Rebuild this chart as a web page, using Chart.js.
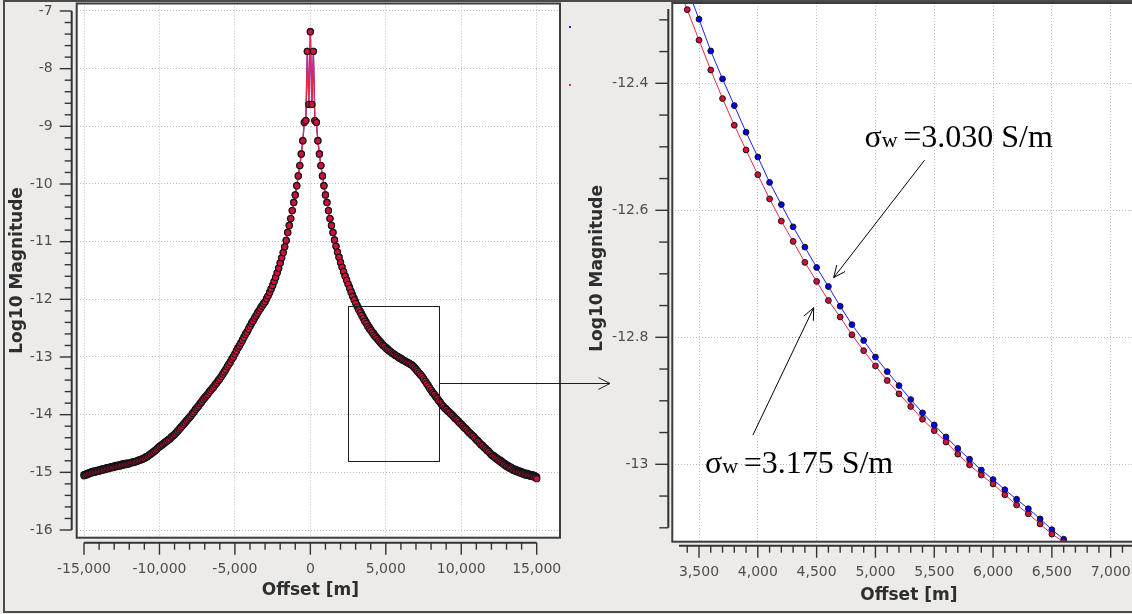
<!DOCTYPE html>
<html>
<head>
<meta charset="utf-8">
<title>Log10 Magnitude vs Offset</title>
<script src="https://cdn.jsdelivr.net/npm/chart.js@4.4.1/dist/chart.umd.min.js"></script>
<style>
  html, body { margin: 0; padding: 0; width: 1132px; height: 614px; overflow: hidden; background: #ecebe9; }
  .pane { position: absolute; top: -10px; }
  .pane canvas { display: block; }
  #paneLeft { left: 0; width: 620px; height: 624px; z-index: 2; }
  #paneRight { left: 575px; width: 600px; height: 624px; z-index: 1; }
  #frame { position: absolute; left: 3px; top: 0; width: 1160px; height: 613px; box-sizing: border-box;
           border-style: solid; border-color: #4b4b4b; border-width: 2px 0 2px 2px; z-index: 3; pointer-events: none; }
</style>
</head>
<body>
<div class="pane" id="paneLeft"><canvas id="leftCanvas" width="620" height="624"></canvas></div>
<div class="pane" id="paneRight"><canvas id="rightCanvas" width="600" height="624"></canvas></div>
<div id="frame"></div>
<script>
// ---------------- data ----------------
// water conductivities of the two models
const conductivities = ['3.175', '3.030'];

// full profile: receivers every 100 m from -15 km to +15 km
const profileStart = -15000, profileEnd = 15000, profileStep = 100;

// log10 magnitude, sigma_w = 3.175 S/m (full profile)
const profileRed = [
  -15.06,-15.05,-15.04,-15.03,-15.02,-15.01,-15.00,-15.00,-14.99,-14.98,
  -14.98,-14.97,-14.96,-14.96,-14.95,-14.94,-14.94,-14.93,-14.92,-14.92,
  -14.91,-14.90,-14.90,-14.89,-14.89,-14.88,-14.87,-14.87,-14.86,-14.86,
  -14.85,-14.84,-14.83,-14.83,-14.82,-14.81,-14.80,-14.79,-14.78,-14.77,
  -14.76,-14.74,-14.73,-14.71,-14.69,-14.67,-14.65,-14.63,-14.61,-14.58,
  -14.56,-14.54,-14.52,-14.50,-14.48,-14.46,-14.44,-14.42,-14.39,-14.37,
  -14.35,-14.32,-14.29,-14.26,-14.23,-14.20,-14.17,-14.14,-14.11,-14.08,
  -14.05,-14.02,-13.98,-13.95,-13.91,-13.88,-13.85,-13.81,-13.78,-13.74,
  -13.71,-13.68,-13.65,-13.61,-13.58,-13.55,-13.52,-13.48,-13.45,-13.41,
  -13.38,-13.34,-13.30,-13.26,-13.22,-13.17,-13.13,-13.09,-13.04,-13.00,
  -12.95,-12.90,-12.85,-12.81,-12.76,-12.71,-12.66,-12.61,-12.57,-12.52,
  -12.47,-12.42,-12.38,-12.33,-12.29,-12.24,-12.20,-12.16,-12.12,-12.08,
  -12.04,-11.99,-11.94,-11.88,-11.82,-11.76,-11.69,-11.62,-11.54,-11.46,
  -11.37,-11.28,-11.19,-11.09,-10.98,-10.84,-10.72,-10.60,-10.46,-10.32,
  -10.19,-10.03,-9.86,-9.68,-9.48,-9.25,-8.93,-8.90,-7.70,-8.62,
  -7.36,
  -8.62,-7.70,-8.90,-8.93,-9.25,-9.48,-9.68,-9.86,-10.03,-10.19,
  -10.32,-10.46,-10.60,-10.72,-10.84,-10.97,-11.08,-11.18,-11.27,-11.36,
  -11.44,-11.52,-11.60,-11.67,-11.74,-11.81,-11.88,-11.95,-12.01,-12.07,
  -12.13,-12.18,-12.23,-12.28,-12.33,-12.38,-12.42,-12.47,-12.51,-12.54,
  -12.58,-12.62,-12.65,-12.68,-12.71,-12.74,-12.77,-12.80,-12.82,-12.85,
  -12.87,-12.89,-12.91,-12.93,-12.95,-12.97,-12.98,-13.00,-13.02,-13.03,
  -13.05,-13.06,-13.08,-13.09,-13.11,-13.12,-13.14,-13.16,-13.19,-13.22,
  -13.25,-13.28,-13.31,-13.34,-13.38,-13.42,-13.46,-13.50,-13.54,-13.58,
  -13.62,-13.65,-13.69,-13.72,-13.76,-13.79,-13.83,-13.86,-13.89,-13.91,
  -13.94,-13.96,-13.99,-14.01,-14.04,-14.07,-14.09,-14.12,-14.15,-14.17,
  -14.20,-14.23,-14.25,-14.28,-14.31,-14.33,-14.36,-14.38,-14.41,-14.44,
  -14.46,-14.49,-14.52,-14.54,-14.57,-14.59,-14.62,-14.64,-14.67,-14.70,
  -14.72,-14.74,-14.76,-14.78,-14.80,-14.82,-14.84,-14.86,-14.88,-14.90,
  -14.91,-14.93,-14.94,-14.96,-14.97,-14.98,-14.99,-15.00,-15.01,-15.02,
  -15.03,-15.04,-15.05,-15.05,-15.06,-15.07,-15.07,-15.08,-15.09,-15.11
];

// log10 magnitude, sigma_w = 3.030 S/m (full profile)
const profileBlue = [
  -15.04,-15.03,-15.02,-15.01,-15.00,-14.99,-14.98,-14.98,-14.97,-14.96,
  -14.96,-14.95,-14.94,-14.94,-14.93,-14.92,-14.92,-14.91,-14.90,-14.90,
  -14.89,-14.88,-14.88,-14.87,-14.87,-14.86,-14.85,-14.85,-14.84,-14.84,
  -14.84,-14.83,-14.82,-14.82,-14.81,-14.80,-14.79,-14.78,-14.77,-14.76,
  -14.75,-14.73,-14.72,-14.70,-14.68,-14.66,-14.64,-14.62,-14.60,-14.57,
  -14.55,-14.53,-14.51,-14.49,-14.47,-14.45,-14.43,-14.41,-14.38,-14.36,
  -14.34,-14.31,-14.28,-14.25,-14.22,-14.19,-14.16,-14.13,-14.10,-14.07,
  -14.04,-14.01,-13.97,-13.94,-13.90,-13.87,-13.84,-13.80,-13.77,-13.73,
  -13.70,-13.67,-13.64,-13.60,-13.57,-13.54,-13.51,-13.47,-13.44,-13.40,
  -13.37,-13.33,-13.29,-13.25,-13.21,-13.16,-13.12,-13.08,-13.03,-12.99,
  -12.94,-12.89,-12.84,-12.80,-12.75,-12.70,-12.65,-12.60,-12.56,-12.51,
  -12.46,-12.41,-12.37,-12.32,-12.28,-12.23,-12.19,-12.15,-12.11,-12.07,
  -12.04,-11.99,-11.94,-11.88,-11.82,-11.76,-11.69,-11.62,-11.54,-11.46,
  -11.37,-11.28,-11.19,-11.09,-10.98,-10.84,-10.72,-10.60,-10.46,-10.32,
  -10.19,-10.03,-9.86,-9.68,-9.48,-9.25,-8.93,-8.90,-7.70,-8.62,
  -7.36,
  -8.62,-7.70,-8.90,-8.93,-9.25,-9.48,-9.68,-9.86,-10.03,-10.19,
  -10.32,-10.46,-10.60,-10.72,-10.84,-10.97,-11.08,-11.18,-11.27,-11.36,
  -11.44,-11.52,-11.59,-11.66,-11.73,-11.79,-11.86,-11.92,-11.98,-12.04,
  -12.10,-12.15,-12.20,-12.25,-12.30,-12.35,-12.39,-12.44,-12.48,-12.52,
  -12.56,-12.59,-12.63,-12.66,-12.69,-12.72,-12.75,-12.78,-12.81,-12.83,
  -12.85,-12.88,-12.90,-12.92,-12.94,-12.96,-12.98,-12.99,-13.01,-13.02,
  -13.04,-13.06,-13.07,-13.09,-13.10,-13.12,-13.13,-13.15,-13.18,-13.21,
  -13.24,-13.27,-13.30,-13.33,-13.37,-13.41,-13.45,-13.49,-13.53,-13.57,
  -13.61,-13.64,-13.68,-13.71,-13.75,-13.78,-13.82,-13.85,-13.88,-13.90,
  -13.93,-13.95,-13.98,-14.00,-14.03,-14.06,-14.08,-14.11,-14.14,-14.16,
  -14.19,-14.22,-14.24,-14.27,-14.30,-14.32,-14.35,-14.37,-14.40,-14.43,
  -14.45,-14.48,-14.51,-14.53,-14.56,-14.58,-14.61,-14.63,-14.66,-14.69,
  -14.70,-14.72,-14.74,-14.76,-14.78,-14.79,-14.81,-14.83,-14.85,-14.87,
  -14.88,-14.90,-14.91,-14.93,-14.94,-14.95,-14.96,-14.97,-14.98,-14.99,
  -15.00,-15.01,-15.02,-15.02,-15.03,-15.04,-15.04,-15.05,-15.06,-15.08
];

// detail window: offsets [m]
const detailOffsets = [3300,3400,3500,3600,3700,3800,3900,4000,4100,4200,4300,4400,4500,4600,4700,
  4800,4900,5000,5100,5200,5300,5400,5500,5600,5700,5800,5900,6000,6100,6200,6300,6400,6500,6600,6700];
// detail window: sigma_w = 3.175 S/m
const detailRed = [-12.235,-12.284,-12.332,-12.379,-12.424,-12.466,-12.505,-12.544,-12.582,-12.617,
  -12.649,-12.682,-12.712,-12.742,-12.768,-12.796,-12.821,-12.845,-12.868,-12.889,-12.909,-12.929,
  -12.947,-12.965,-12.984,-13.001,-13.017,-13.031,-13.048,-13.064,-13.078,-13.094,-13.110,-13.122,-13.137];
// detail window: sigma_w = 3.030 S/m
const detailBlue = [-12.200,-12.250,-12.299,-12.349,-12.393,-12.435,-12.477,-12.516,-12.556,-12.591,
  -12.626,-12.658,-12.690,-12.720,-12.751,-12.780,-12.805,-12.831,-12.854,-12.876,-12.898,-12.919,
  -12.938,-12.957,-12.975,-12.992,-13.009,-13.024,-13.040,-13.055,-13.070,-13.086,-13.103,-13.118,-13.133];

// labelled ticks
const profileXTicks = [-15000, -10000, -5000, 0, 5000, 10000, 15000];
const profileYTicks = [-16, -15, -14, -13, -12, -11, -10, -9, -8, -7];
const detailXTicks = [3500, 4000, 4500, 5000, 5500, 6000, 6500, 7000];
const detailYTicks = [-13, -12.8, -12.6, -12.4];

// detail window outlined on the full profile: [x0, x1, yTop, yBottom]
const zoomWindow = [2515, 8540, -12.115, -14.795];

// ---------------- helpers ----------------
const profileOffsets = [];
for (let x = profileStart; x <= profileEnd; x += profileStep) profileOffsets.push(x);

const toPoints = (xs, ys) => xs.map((x, i) => ({ x, y: ys[i] }));
const fixedTicks = values => scale => { scale.ticks = values.map(value => ({ value })); };
const fmtThousands = v => Number(v).toLocaleString('en-US');
const fmtDecimal = v => String(Math.round(v * 10) / 10);

function seg(ctx, x1, y1, x2, y2) {
  ctx.beginPath(); ctx.moveTo(x1, y1); ctx.lineTo(x2, y2); ctx.stroke();
}
function arrow(ctx, x1, y1, x2, y2, head, spread) {
  seg(ctx, x1, y1, x2, y2);
  const ang = Math.atan2(y2 - y1, x2 - x1) + Math.PI;
  for (const s of [-1, 1]) {
    seg(ctx, x2, y2, x2 + head * Math.cos(ang + s * spread), y2 + head * Math.sin(ang + s * spread));
  }
}
function stepsIn(range, step) {
  const out = [];
  const n0 = Math.ceil(range[0] / step - 1e-9), n1 = Math.floor(range[1] / step + 1e-9);
  for (let n = n0; n <= n1; n++) out.push(n * step);
  return out;
}
const onStep = (v, step) => Math.abs(v / step - Math.round(v / step)) < 1e-6;

// white plotting area, frame, detached axes with minor ticks, axis titles
const plotDecor = {
  id: 'plotDecor',
  beforeDraw(chart) {
    const { ctx, chartArea: a } = chart;
    ctx.save();
    ctx.fillStyle = '#ffffff';
    ctx.fillRect(a.left, a.top, a.right - a.left, a.bottom - a.top);
    ctx.restore();
  },
  afterDraw(chart, args, o) {
    const { ctx, chartArea: a, scales: { x, y } } = chart;
    ctx.save();
    ctx.strokeStyle = '#3d3d3d';
    ctx.lineWidth = 2;
    ctx.strokeRect(a.left, a.top, a.right - a.left, a.bottom - a.top);

    ctx.strokeStyle = '#333333';
    // vertical axis
    const ax = a.left - o.gap;
    const yTop = y.getPixelForValue(o.yRange[1]), yBot = y.getPixelForValue(o.yRange[0]);
    ctx.lineWidth = 2;
    seg(ctx, ax, yTop, ax, yBot);
    ctx.lineWidth = 1.4;
    for (const v of stepsIn(o.yRange, o.yMinor)) {
      const p = y.getPixelForValue(v);
      seg(ctx, ax, p, ax - (onStep(v, o.yMajor) ? o.yTickLen[0] : o.yTickLen[1]), p);
    }
    // horizontal axis
    const ay = a.bottom + o.gap;
    const xL = x.getPixelForValue(o.xRange[0]), xR = x.getPixelForValue(o.xRange[1]);
    ctx.lineWidth = 2;
    seg(ctx, xL, ay, xR, ay);
    ctx.lineWidth = 1.4;
    for (const v of stepsIn(o.xRange, o.xMinor)) {
      const p = x.getPixelForValue(v);
      seg(ctx, p, ay, p, ay + (onStep(v, o.xMajor) ? o.xTickLen[0] : o.xTickLen[1]));
    }
    // axis titles
    ctx.fillStyle = '#2e2e2e';
    ctx.font = 'bold 17px "DejaVu Sans"';
    ctx.textAlign = 'center';
    ctx.textBaseline = 'middle';
    ctx.fillText(o.xTitle, (xL + xR) / 2 + o.xTitleShift, a.bottom + o.xTitleOffset);
    ctx.translate(a.left - o.yTitleOffset, (yTop + yBot) / 2);
    ctx.rotate(-Math.PI / 2);
    ctx.fillText(o.yTitle, 0, 0);
    ctx.restore();
  }
};

// outline of the detail window and the pointer towards the detail panel
const windowMarker = {
  id: 'windowMarker',
  afterDraw(chart, args, o) {
    const { ctx, scales: { x, y } } = chart;
    const [x0, x1, yt, yb] = o.window;
    const l = x.getPixelForValue(x0), r = x.getPixelForValue(x1);
    const t = y.getPixelForValue(yt), b = y.getPixelForValue(yb);
    ctx.save();
    ctx.strokeStyle = '#1e1e1e';
    ctx.lineWidth = 1;
    ctx.strokeRect(Math.round(l) + 0.5, Math.round(t) + 0.5, Math.round(r - l), Math.round(b - t));
    const my = Math.round((t + b) / 2) + 0.5;
    arrow(ctx, r, my, o.arrowTipX, my, 13, 0.47);
    // clipped legend swatches at the panel edge
    chart.data.datasets.forEach((ds, i) => {
      ctx.fillStyle = ds.borderColor;
      ctx.fillRect(o.swatchX, o.swatchY[i], 2, 2);
    });
    ctx.restore();
  }
};

// conductivity labels with pointers to their curves
const curveLabels = {
  id: 'curveLabels',
  afterDraw(chart, args, o) {
    const { ctx, scales: { x, y } } = chart;
    ctx.save();
    ctx.fillStyle = '#000';
    ctx.strokeStyle = '#000';
    ctx.lineWidth = 1;
    ctx.textAlign = 'left';
    ctx.textBaseline = 'alphabetic';
    for (const lab of o.labels) {
      let px = x.getPixelForValue(lab.at[0]);
      const py = y.getPixelForValue(lab.at[1]);
      ctx.font = '32px "Liberation Serif"';
      ctx.fillText('σ', px, py);
      px += ctx.measureText('σ').width;
      ctx.font = '22px "Liberation Serif"';
      ctx.fillText('w', px, py);
      px += ctx.measureText('w ').width;
      ctx.font = '32px "Liberation Serif"';
      ctx.fillText('=' + lab.text + ' S/m', px, py);
      arrow(ctx, x.getPixelForValue(lab.from[0]), y.getPixelForValue(lab.from[1]),
            x.getPixelForValue(lab.to[0]), y.getPixelForValue(lab.to[1]), 13, 0.42);
    }
    ctx.restore();
  }
};

const tickFont = { family: 'DejaVu Sans', size: 14 };
const tickColor = '#4e4e4e';
const gridStyle = { color: '#bdbdbd', lineWidth: 1, drawTicks: false };
const gridStyleY = { color: '#bdbdbd', lineWidth: 1, drawTicks: true, tickLength: 24, tickColor: 'rgba(0,0,0,0)' };
const dotted = { display: false, dash: [1, 2] };

const red = { line: '#e8284c', fill: '#d0103a' };
const blue = { line: '#1c1cff', fill: '#0000ee' };

// ---------------- full profile ----------------
new Chart(document.getElementById('leftCanvas'), {
  type: 'line',
  data: {
    datasets: [
      { label: 'σw =' + conductivities[0] + ' S/m', data: toPoints(profileOffsets, profileRed),
        borderColor: red.line, borderWidth: 1.3, pointBackgroundColor: red.fill,
        pointBorderColor: '#141414', pointBorderWidth: 1.1, pointRadius: 3.1 },
      { label: 'σw =' + conductivities[1] + ' S/m', data: toPoints(profileOffsets, profileBlue),
        borderColor: blue.line, borderWidth: 1.3, pointBackgroundColor: blue.fill,
        pointBorderColor: '#141414', pointBorderWidth: 1.1, pointRadius: 3.1 }
    ]
  },
  options: {
    responsive: false, animation: false, events: [],
    layout: { padding: { top: 13.5, right: 60, left: 0, bottom: 0 } },
    scales: {
      x: {
        type: 'linear', min: -15484, max: 16544,
        afterBuildTicks: fixedTicks(profileXTicks),
        afterFit: s => { s.height = 76.3; },
        ticks: { autoSkip: false, maxRotation: 0, padding: 22.9,
                 font: tickFont, color: tickColor, callback: fmtThousands },
        grid: gridStyle, border: dotted
      },
      y: {
        type: 'linear', min: -16.1335, max: -6.870,
        afterBuildTicks: fixedTicks(profileYTicks),
        afterFit: s => { s.width = 76.7; },
        ticks: { autoSkip: false, padding: 0, font: tickFont, color: tickColor, callback: fmtDecimal },
        grid: gridStyleY, border: dotted
      }
    },
    plugins: {
      legend: { display: false }, tooltip: { enabled: false },
      plotDecor: { gap: 5, xRange: [-15000, 15000], xMajor: 5000, xMinor: 1000, xTickLen: [12, 7],
                   yRange: [-16, -7], yMajor: 1, yMinor: 0.2, yTickLen: [12, 7],
                   xTitle: 'Offset [m]', yTitle: 'Log10 Magnitude', xTitleOffset: 52.5, xTitleShift: 0, yTitleOffset: 59.2 },
      windowMarker: { window: zoomWindow, arrowTipX: 610, swatchX: 569, swatchY: [94, 36] }
    }
  },
  plugins: [plotDecor, windowMarker]
});

// ---------------- detail window ----------------
new Chart(document.getElementById('rightCanvas'), {
  type: 'line',
  data: {
    datasets: [
      { label: 'σw =' + conductivities[0] + ' S/m', data: toPoints(detailOffsets, detailRed),
        borderColor: red.line, borderWidth: 1, pointBackgroundColor: red.fill,
        pointBorderColor: '#141414', pointBorderWidth: 1, pointRadius: 2.9 },
      { label: 'σw =' + conductivities[1] + ' S/m', data: toPoints(detailOffsets, detailBlue),
        borderColor: blue.line, borderWidth: 1, pointBackgroundColor: blue.fill,
        pointBorderColor: '#141414', pointBorderWidth: 1, pointRadius: 2.9 }
    ]
  },
  options: {
    responsive: false, animation: false, events: [],
    layout: { padding: { top: 13, right: 30.3, left: 0, bottom: 0 } },
    scales: {
      x: {
        type: 'linear', min: 3273, max: 7289,
        afterBuildTicks: fixedTicks(detailXTicks),
        afterFit: s => { s.height = 72.3; },
        ticks: { autoSkip: false, maxRotation: 0, padding: 22.4,
                 font: tickFont, color: tickColor, callback: fmtThousands },
        grid: gridStyle, border: dotted
      },
      y: {
        type: 'linear', min: -13.1219, max: -12.2735,
        afterBuildTicks: fixedTicks(detailYTicks),
        afterFit: s => { s.width = 97.3; },
        ticks: { autoSkip: false, padding: 0, font: tickFont, color: tickColor, callback: fmtDecimal },
        grid: gridStyleY, border: dotted
      }
    },
    plugins: {
      legend: { display: false }, tooltip: { enabled: false },
      plotDecor: { gap: 4, xRange: [3330, 7289], xMajor: 500, xMinor: 100, xTickLen: [12, 7],
                   yRange: [-13.1, -12.283], yMajor: 0.2, yMinor: 0.05, yTickLen: [13, 9],
                   xTitle: 'Offset [m]', yTitle: 'Log10 Magnitude', xTitleOffset: 53.5, xTitleShift: -3, yTitleOffset: 74.3 },
      curveLabels: {
        labels: [
          { text: conductivities[1], at: [4907, -12.500], from: [5418, -12.521], to: [4645, -12.706] },
          { text: conductivities[0], at: [3551, -13.014], from: [3958, -12.954], to: [4475, -12.7534] }
        ]
      }
    }
  },
  plugins: [plotDecor, curveLabels]
});
</script>
</body>
</html>
